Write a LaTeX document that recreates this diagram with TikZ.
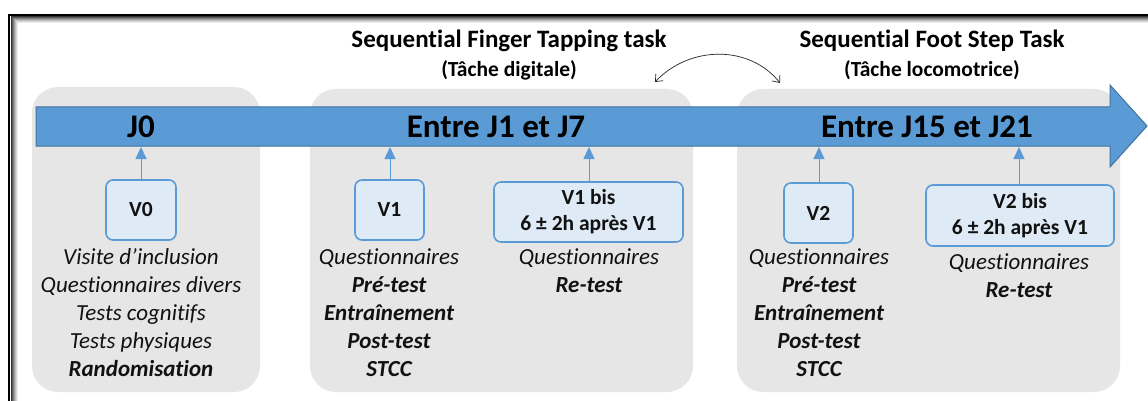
\documentclass[tikz,border=0pt]{standalone}
\usepackage{fontspec}
\setmainfont{Carlito}[Ligatures=NoCommon]
\usetikzlibrary{arrows.meta}
\definecolor{panelgray}{HTML}{E7E6E6}
\definecolor{arrowblue}{HTML}{5B9BD5}
\definecolor{arrowedge}{HTML}{41719C}
\definecolor{boxfill}{HTML}{DEEBF7}
\definecolor{txt}{HTML}{111111}
\begin{document}
\begin{tikzpicture}[x=1pt,y=-1pt,
  panel/.style={fill=panelgray,draw=none,rounded corners=26pt},
  visitbox/.style={draw=arrowblue,fill=boxfill,line width=1.6pt,rounded corners=7pt,inner sep=0pt,align=center,font=\fontsize{21.5}{26}\selectfont\bfseries,text=txt},
  daylabel/.style={font=\fontsize{33}{36}\selectfont\bfseries,text=black,inner sep=0pt},
  tasktitle/.style={font=\fontsize{25}{28}\selectfont\bfseries,text=black,inner sep=0pt},
  tasksub/.style={font=\fontsize{21.5}{24}\selectfont\bfseries,text=black,inner sep=0pt},
  detail/.style={font=\fontsize{23}{28}\selectfont\itshape,text=txt,align=center,inner sep=0pt},
  uparrow/.style={draw=arrowblue,line width=0.9pt,-{Triangle[width=11pt,length=12pt]}}
]
\useasboundingbox (0,0) rectangle (1148,401);
% frame with inner shadow
\fill[white] (0,0) rectangle (1148,401);
\foreach \i/\c in {1/80,2/65,3/50,4/38,5/26,6/16,7/8}{
  \draw[black!\c,line width=1pt] (10+\i,420) -- (10+\i,16+\i) -- (1160,16+\i);
}
\draw[black,line width=2.6pt] (9,420) -- (9,15) -- (1160,15);

% panels
\fill[panel] (32,87) rectangle (260,392);
\fill[panel] (310,89) rectangle (693,392);
\fill[panel] (737,89) rectangle (1120,392);

% main timeline arrow
\draw[fill=arrowblue,draw=arrowedge,line width=1pt,line join=miter]
  (36,107) -- (1110,107) -- (1110,85) -- (1147,126) -- (1110,167) -- (1110,146) -- (36,146) -- cycle;
\node[daylabel] (j0) at (141,127) {J0};
\node[daylabel] (j1) at (496,127) {Entre J1 et J7};
\node[daylabel] (j15) at (927,127) {Entre J15 et J21};

% task titles
\node[tasktitle] (t1) at (509,41) {Sequential Finger Tapping task};
\node[tasksub] (s1) at (509,70) {(Tâche digitale)};
\node[tasktitle] (t2) at (932,41) {Sequential Foot Step Task};
\node[tasksub] (s2) at (932,70) {(Tâche locomotrice)};
\coordinate (cl) at (655,82);
\coordinate (cr) at (780,83);
\draw[black!85,line width=0.7pt,{Straight Barb[width=10pt,length=6pt]}-{Straight Barb[width=10pt,length=6pt]}]
  (cl) .. controls (690,45) and (750,45) .. (cr);

% visit boxes
\node[visitbox,minimum width=70pt,minimum height=60pt] (v0) at (141,210) {V0};
\node[visitbox,minimum width=69pt,minimum height=60pt] (v1) at (389.5,210) {V1};
\node[visitbox,minimum width=189pt,minimum height=60pt] (v1b) at (588.5,212) {V1 bis\\6 ± 2h après V1};
\node[visitbox,minimum width=69pt,minimum height=60pt] (v2) at (818.5,213) {V2};
\node[visitbox,minimum width=188pt,minimum height=61pt] (v2b) at (1020,215.5) {V2 bis\\6 ± 2h après V1};

% connector end points on the timeline
\coordinate (a0) at (141,147);
\coordinate (a1) at (390,147);
\coordinate (a1b) at (589,147);
\coordinate (a2) at (819,147);
\coordinate (a2b) at (1019,147);
\draw[uparrow] (v0.north) -- (a0);
\draw[uparrow] (v1.north -| a1) -- (a1);
\draw[uparrow] (v1b.north -| a1b) -- (a1b);
\draw[uparrow] (v2.north -| a2) -- (a2);
\draw[uparrow] (v2b.north -| a2b) -- (a2b);

% details
\node[detail] (d0) at (141,313) {Visite d’inclusion\\Questionnaires divers\\Tests cognitifs\\Tests physiques\\\textbf{Randomisation}};
\node[detail] (d1) at (389,313) {Questionnaires\\\textbf{Pré-test}\\\textbf{Entraînement}\\\textbf{Post-test}\\\textbf{STCC}};
\node[detail] (d1b) at (589,271) {Questionnaires\\\textbf{Re-test}};
\node[detail] (d2) at (819,313) {Questionnaires\\\textbf{Pré-test}\\\textbf{Entraînement}\\\textbf{Post-test}\\\textbf{STCC}};
\node[detail] (d2b) at (1019,276) {Questionnaires\\\textbf{Re-test}};
\end{tikzpicture}
\end{document}
